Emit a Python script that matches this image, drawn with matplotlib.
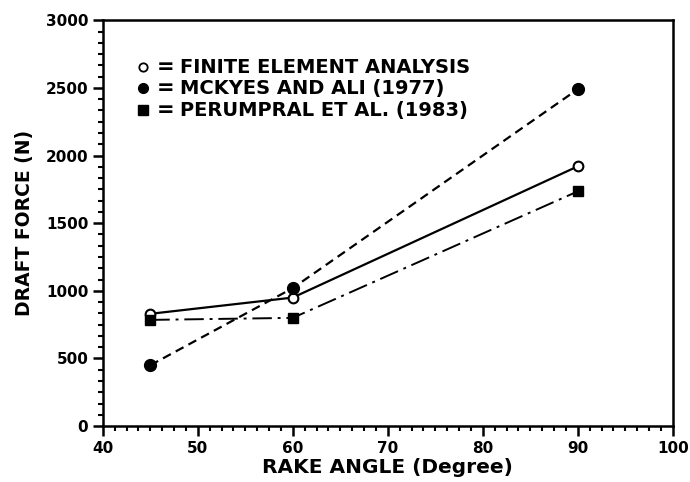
import matplotlib.pyplot as plt
from matplotlib.ticker import MultipleLocator, AutoMinorLocator

plt.rcParams['font.family'] = ['DejaVu Sans']
plt.rcParams['font.weight'] = 'bold'

rake_angle = [45, 60, 90]
fea = [830, 950, 1920]
mckyes = [450, 1020, 2490]
perumpral = [785, 800, 1735]

labels = ['FINITE ELEMENT ANALYSIS', 'MCKYES AND ALI (1977)', 'PERUMPRAL ET AL. (1983)']

fig = plt.figure(figsize=(6.9, 4.82), dpi=100)
ax = fig.add_axes([0.149, 0.116, 0.826, 0.842])

ax.plot(rake_angle, fea, '-', color='black', lw=1.6,
        marker='o', markersize=7, markerfacecolor='white', markeredgewidth=1.5)
ax.plot(rake_angle, mckyes, '--', color='black', lw=1.6, dashes=(4, 2.5),
        marker='o', markersize=8.5, markerfacecolor='black')
ax.plot(rake_angle, perumpral, color='black', lw=1.4, dashes=(10, 3, 1.5, 3),
        marker='s', markersize=7.5, markerfacecolor='black')

ax.set_xlim(40, 100)
ax.set_ylim(0, 3000)
ax.xaxis.set_major_locator(MultipleLocator(10))
ax.xaxis.set_minor_locator(AutoMinorLocator(8))
ax.yaxis.set_major_locator(MultipleLocator(500))
ax.yaxis.set_minor_locator(AutoMinorLocator(6))
ax.tick_params(which='major', direction='out', length=7, width=1.8, labelsize=11)
ax.tick_params(which='minor', direction='out', length=3.5, width=1.5)
for s in ax.spines.values():
    s.set_linewidth(1.8)
for lab in ax.get_xticklabels() + ax.get_yticklabels():
    lab.set_fontweight('heavy')

ax.set_xlabel('RAKE ANGLE (Degree)', fontsize=14.5, fontweight='bold', labelpad=2)
ax.set_ylabel('DRAFT FORCE (N)', fontsize=13.5, fontweight='bold', labelpad=8)

# hand-made legend as in the original figure
rows = [0.884, 0.832, 0.778]
styles = [dict(marker='o', markersize=6, markerfacecolor='white', markeredgewidth=1.3),
          dict(marker='o', markersize=7, markerfacecolor='black'),
          dict(marker='s', markersize=6.5, markerfacecolor='black')]
for y, lab, st in zip(rows, labels, styles):
    ax.plot([0.070], [y], transform=ax.transAxes, color='black', linestyle='none', **st)
    ax.text(0.094, y, '=', transform=ax.transAxes, fontsize=15, fontweight='bold',
            va='center', ha='left')
    ax.text(0.135, y, lab, transform=ax.transAxes, fontsize=14, fontweight='bold',
            va='center', ha='left')

fig.savefig('out.png', dpi=100)
